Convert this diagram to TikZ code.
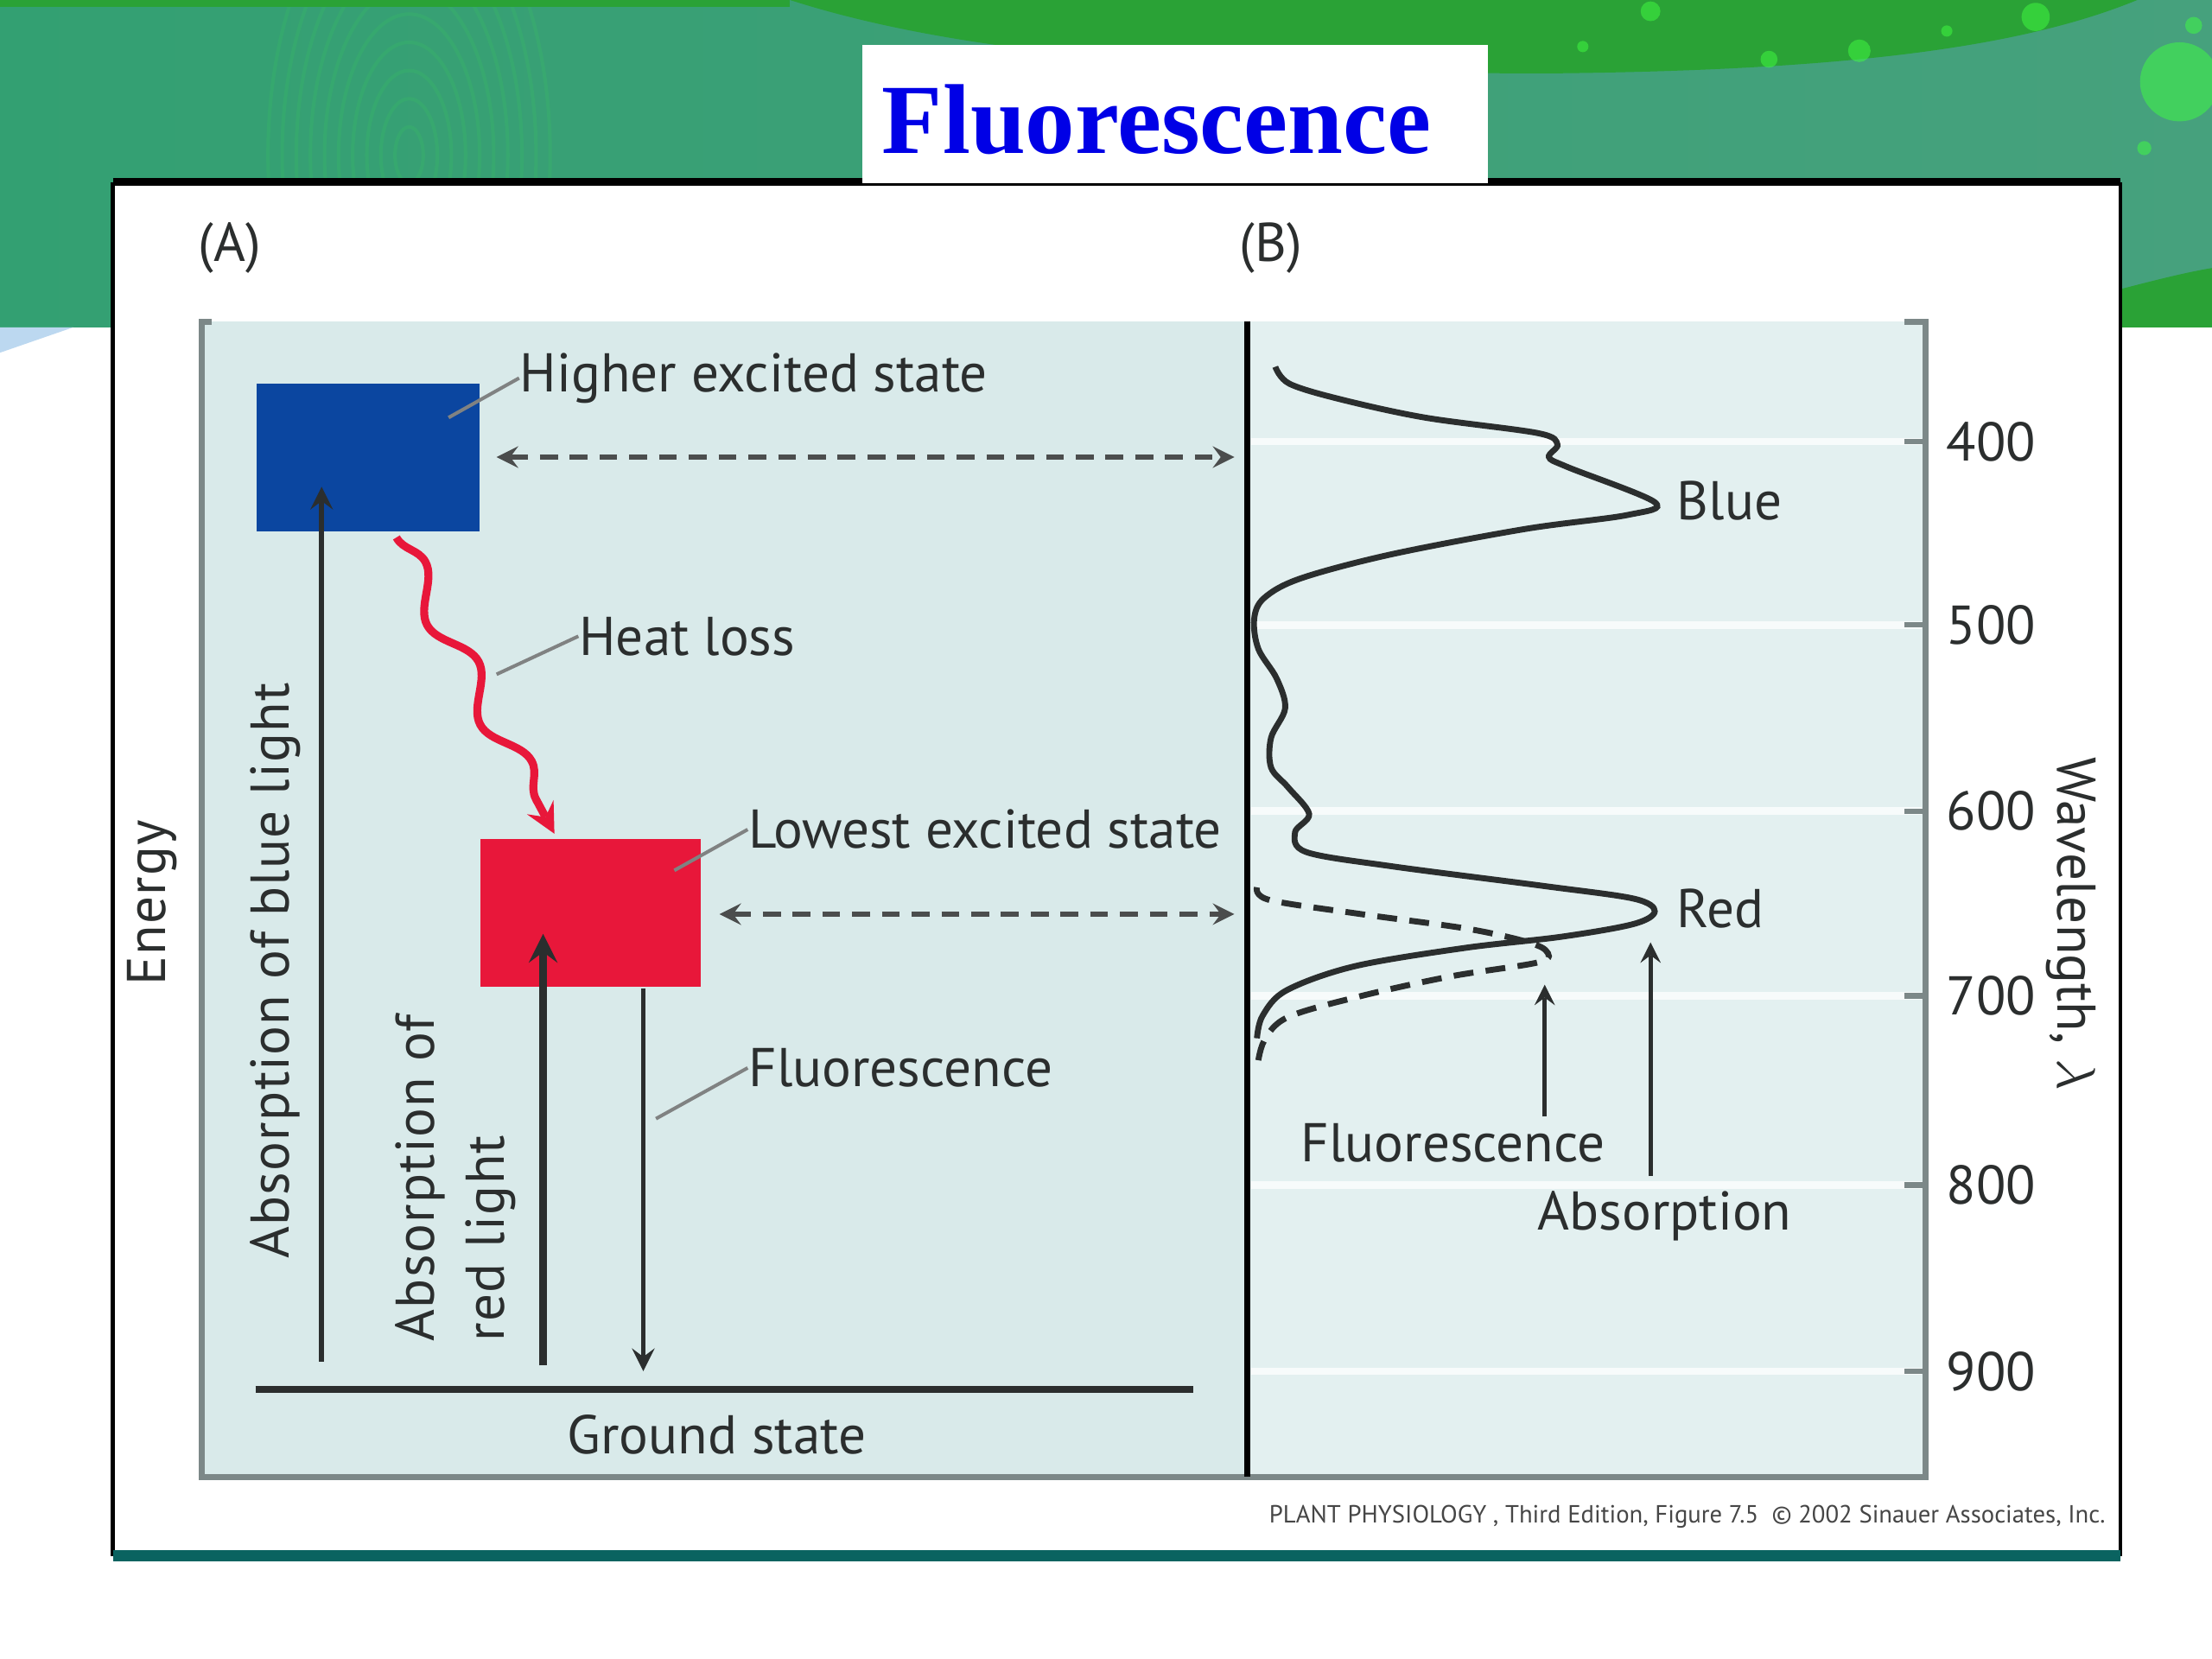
\documentclass[tikz,border=0pt]{standalone}
\usepackage{fontspec}
\setmainfont{Liberation Serif}
\newfontfamily\figfont{PT Sans}
\newfontfamily\figwide{PT Sans}[LetterSpace=2.0]
\usetikzlibrary{positioning,decorations.pathmorphing}
\definecolor{ink}{HTML}{2B2E2E}
\definecolor{axisgray}{HTML}{7C8888}
\definecolor{panelA}{HTML}{D9EAEA}
\definecolor{panelB}{HTML}{E3F0F0}
\definecolor{hiblue}{HTML}{0B46A0}
\definecolor{lored}{HTML}{E8173A}
\definecolor{titleblue}{HTML}{0000E6}
\definecolor{bannerleft}{HTML}{33A072}
\definecolor{bannermid}{HTML}{2C8B67}
\definecolor{bannerright}{HTML}{46A17D}
\definecolor{leafgreen}{HTML}{2AA236}
\definecolor{barteal}{HTML}{0A6360}
\definecolor{swoosh}{HTML}{BCD8F0}
\begin{document}
\begin{tikzpicture}[x=0.01cm,y=-0.01cm]
  \tikzset{lbl/.style={font=\figfont\fontsize{11}{13}\selectfont, text=ink, inner sep=0pt},
           widelbl/.style={font=\figwide\fontsize{11}{14}\selectfont, text=ink, inner sep=0pt},
           leader/.style={draw=ink!60, line width=0.7pt},
           uparrow/.style={->, >=stealth, line width=1pt, draw=ink},
           xfer/.style={<->, >=stealth, dash pattern=on 3.6pt off 2.4pt, line width=0.9pt, draw=ink!85},
           levelbox/.style={minimum width=1.58cm, minimum height=1.05cm, inner sep=0pt, anchor=north west},
           axtick/.style={draw=axisgray, line width=1.1pt}}
  \useasboundingbox (0,0) rectangle (1568,1176);
  \fill[white] (0,0) rectangle (1568,1176);
  % banner
  \fill[left color=bannerleft, middle color=bannermid, right color=bannerright] (0,0) rectangle (1568,232);
  \foreach \r in {20,40,...,200}
    \draw[green!75!white, opacity=.09, line width=0.7pt] (290,110) ellipse ({\r*0.5} and {\r});
  \fill[leafgreen] (0,0) rectangle (560,5);
  \fill[leafgreen] (560,0) .. controls (700,45) and (900,52) .. (1100,52) .. controls (1300,50) and (1430,35) .. (1515,0) -- cycle;
  \fill[leafgreen] (1503,205) .. controls (1530,198) and (1550,193) .. (1568,190) -- (1568,232) -- (1503,232) -- cycle;
  \fill[swoosh] (0,232) -- (52,232) -- (0,250) -- cycle;
  \foreach \bx/\by/\br in {1443/12/10, 1545/58/28, 1318/36/8, 1170/8/7, 1520/105/5, 1122/33/4, 1254/42/6, 1380/22/4, 1555/18/6}
    \fill[green!75!white, opacity=.5] (\bx,\by) circle (\br);
  % panel
  \fill[white] (80,129) rectangle (1503,1103);
  \draw[black, line width=0.8pt] (80,129) -- (80,1103) (1503,129) -- (1503,1103);
  \draw[black, line width=1.6pt] (80,129) -- (1503,129);
  \fill[barteal] (80,1099) rectangle (1503,1107);
  \node[fill=white, minimum width=4.43cm, minimum height=0.98cm, inner sep=0pt] (titlebox) at (833,81) {};
  \node[font=\bfseries\fontsize{20}{24}\selectfont, text=titleblue] (title) at (820,85) {Fluorescence};
  \node[lbl] (pa) at (163,176) {(A)};
  \node[lbl] (pb) at (901,176) {(B)};
  % frames
  \fill[panelA] (143,228) rectangle (884,1047);
  \fill[panelB] (884,228) rectangle (1365,1047);
  \foreach \w/\ty in {400/313,500/443,600/575,700/706,800/840,900/972}{
    \draw[white, opacity=.75, line width=1.5pt] (887,\ty) -- (1362,\ty);
    \draw[axtick] (1350,\ty) -- (1365,\ty) node[lbl, right=0.13cm] (w\w) {\w};
  }
  \draw[axisgray, line width=1.2pt] (150,228) -- (143,228) -- (143,1047) -- (1365,1047) -- (1365,228) -- (1350,228);
  \draw[black, line width=1.3pt] (884,228) -- (884,1047);
  \node[lbl, rotate=-90] (wavelen) at (1468,655) {Wavelength, $\lambda$};
  \node[widelbl, rotate=90] (energy) at (108,640) {Energy};
  % (A) energy levels
  \node[levelbox, fill=hiblue] (hes) at (181,271) {};
  \node[levelbox, fill=lored, minimum width=1.56cm] (les) at (340,594) {};
  \node[lbl, anchor=west] (hesl) at (368,268) {Higher excited state};
  \node[lbl, anchor=west] (heat) at (410,451) {Heat loss};
  \node[lbl, anchor=west] (lesl) at (530,588) {Lowest excited state};
  \node[lbl, anchor=west] (fluol) at (530,757) {Fluorescence};
  \draw[leader] (318,296) -- (hesl.west);
  \draw[leader] (352,478) -- (heat.west);
  \draw[leader] (478,617) -- (lesl.west);
  \draw[leader] (465,793) -- (fluol.west);
  \coordinate (heatstart) at (281,381);
  \coordinate (heatend) at (393,591);
  \draw[draw=lored, line width=1.6pt, ->, >=stealth, decorate,
        decoration={snake, segment length=0.8cm, amplitude=0.1cm, post length=0.25cm}] (heatstart) -- (heatend);
  \coordinate (bluefoot) at (228,965);
  \coordinate (bluetip) at (228,345);
  \coordinate (redfoot) at (385,968);
  \coordinate (redtip) at (385,662);
  \coordinate (fluofoot) at (456,972);
  \draw[uparrow] (bluefoot) -- (bluetip);
  \draw[uparrow, line width=1.5pt] (redfoot) -- (redtip);
  \draw[uparrow] (les.south -| fluofoot) -- (fluofoot);
  \node[widelbl, rotate=90] (absblue) at (195,688) {Absorption of blue light};
  \node[widelbl, rotate=90, align=left] (absred) at (323,835) {Absorption of\\red light};
  \coordinate (gsl) at (181,985);
  \coordinate (gsr) at (846,985);
  \draw[ink, line width=1.3pt] (gsl) -- (gsr);
  \node[lbl] (ground) at (508,1017) {Ground state};
  \coordinate (hesr) at (352,324);
  \coordinate (lesr) at (510,648);
  \draw[xfer] (hesr) -- (hesr -| 875,0);
  \draw[xfer] (lesr) -- (lesr -| 875,0);
  % (B) spectra
  \draw[ink, line width=1.2pt] plot[smooth, tension=0.55] coordinates {(904,260) (914,272) (950,283) (1010,296) (1090,307) (1104,315) (1098,324) (1111,331) (1173,356) (1154,365) (1081,375) (986,393) (922,410) (896,424) (889,439) (892,460) (905,481) (911,502) (901,523) (901,544) (913,558) (928,577) (918,590) (926,604) (986,614) (1094,628) (1158,637) (1173,646) (1158,655) (1107,664) (1038,672) (960,685) (912,702) (895,720) (891,736)};
  \draw[ink, line width=1.2pt, dash pattern=on 4pt off 2.5pt] plot[smooth, tension=0.55] coordinates {(891,629) (900,638) (965,648) (1038,658) (1080,667) (1096,674) (1091,682) (1029,692) (965,706) (913,721) (896,738) (891,758)};
  \node[lbl, anchor=west] (bluepk) at (1188,355) {Blue};
  \node[lbl, anchor=west] (redpk) at (1188,644) {Red};
  \node[lbl] (fluo) at (1030,810) {Fluorescence};
  \node[lbl] (absn) at (1180,862) {Absorption};
  \coordinate (fluotip) at (1095,698);
  \coordinate (abstip) at (1170,668);
  \draw[uparrow, line width=0.8pt] (fluo.north -| fluotip) ++(0,-4) -- (fluotip);
  \draw[uparrow, line width=0.8pt] (absn.north -| abstip) ++(0,-10) -- (abstip);
  \node[font=\figfont\fontsize{5}{6}\selectfont, text=gray!55!black] (credit) at (1196,1075) {PLANT PHYSIOLOGY , Third Edition, Figure 7.5 \ © 2002 Sinauer Associates, Inc.};
\end{tikzpicture}
\end{document}
